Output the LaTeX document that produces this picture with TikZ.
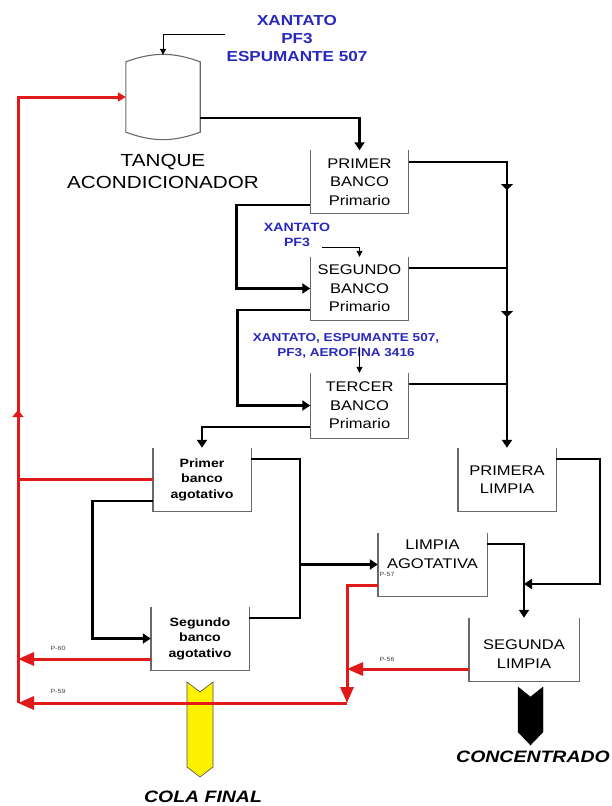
\documentclass[tikz,border=0pt]{standalone}
\usepackage{fontspec}
\setmainfont[FakeStretch=1.18]{Liberation Sans}
\usetikzlibrary{arrows.meta}
\definecolor{chemblue}{RGB}{40,40,190}
\definecolor{recred}{RGB}{225,25,25}
\definecolor{wallgray}{RGB}{105,105,105}
\begin{document}
\begin{tikzpicture}[x=1pt,y=1pt,
  wall/.style={draw=wallgray, line width=1.4pt},
  flow/.style={draw=black, line width=2.9pt},
  fwd/.style={flow, -{Triangle[width=10pt,length=8pt]}},
  midtip/.style={flow, -{Triangle[width=12pt,length=6pt]}},
  recycle/.style={draw=recred, line width=3pt},
  rback/.style={recycle, -{Triangle[width=13pt,length=16pt]}},
  feedline/.style={draw=black, line width=1pt, -{Triangle[width=6pt,length=6pt]}},
  chem/.style={text=chemblue, align=center, inner sep=0pt},
  cell/.style={minimum width=98pt, minimum height=63pt, inner sep=0pt, align=center,
    font=\fontsize{14}{18.5}\selectfont},
  agocell/.style={cell, font=\bfseries\fontsize{12}{15.5}\selectfont},
  tag/.style={font=\fontsize{6}{7}\selectfont, text=black!75, inner sep=0pt},
  outlbl/.style={font=\bfseries\itshape\fontsize{16.5}{20}\selectfont, inner sep=0pt}]
\useasboundingbox (0,0) rectangle (612,-806);

% conditioning tank
\node[minimum width=74pt, minimum height=70pt, inner sep=0pt] (tank) at (163,-97) {};
\draw[wall, line width=1.1pt] (tank.north west) to[out=20,in=160] (tank.north east)
  -- (tank.south east) to[out=-160,in=-20] (tank.south west) -- cycle;
\node[font=\fontsize{17.5}{22}\selectfont, align=center] (tanklbl) at (163,-171) {TANQUE\\ACONDICIONADOR};

% reagent additions
\node[chem, font=\bfseries\fontsize{14.5}{18}\selectfont] (feed1) at (297,-39) {XANTATO\\PF3\\ESPUMANTE 507};
\node[chem, font=\bfseries\fontsize{12}{15}\selectfont] (feed2) at (297,-235) {XANTATO\\PF3};
\node[chem, font=\bfseries\fontsize{11.5}{15}\selectfont] (feed3) at (346,-345.5) {XANTATO, ESPUMANTE 507,\\PF3, AEROFINA 3416};

% flotation cells (open-top tanks)
\node[cell] (pb) at (359.5,-182) {PRIMER\\BANCO\\Primario};
\node[cell] (sb) at (359.5,-288.5) {SEGUNDO\\BANCO\\Primario};
\node[cell, minimum height=65pt] (tb) at (359.5,-405.5) {TERCER\\BANCO\\Primario};
\node[agocell] (pa) at (202,-479.5) {Primer\\banco\\agotativo};
\node[agocell] (sa) at (200,-638.5) {Segundo\\banco\\agotativo};
\node[cell] (pl) at (507,-479.5) {PRIMERA\\LIMPIA};
\node[cell, minimum width=109pt] (la) at (432.5,-564.5) {};
\node[cell, minimum width=110pt] (sl) at (524,-649.5) {};
\node[cell, minimum height=0pt] (lat) at (432.5,-554) {LIMPIA\\AGOTATIVA};
\node[cell, minimum height=0pt] (slt) at (524,-654) {SEGUNDA\\LIMPIA};
\foreach \c in {pb,sb,tb,pa,sa,pl,la,sl}
  \draw[wall] (\c.north west) |- (\c.south east) -- (\c.north east);

% product chevrons
\node[outlbl] (cola) at (203,-797) {COLA FINAL};
\node[outlbl] (conc) at (533,-757) {CONCENTRADO};
\draw[fill=yellow, draw=black!70, line width=0.6pt] (187,-682) -- (200,-692) -- (213,-682)
  -- (213,-767) -- (200,-777) -- (187,-767) -- cycle;
\draw[fill=black, draw=black] (518,-687) -- (530.5,-697) -- (543,-687)
  -- (543,-732) -- (530.5,-745) -- (518,-732) -- cycle;

% reagent feed lines
\coordinate (feedin1) at (225,-34);
\coordinate (feedin2) at (322,-247);
\coordinate (feedin3) at (359.5,-347);
\draw[feedline] (feedin1) -| ([yshift=7pt]tank.north);
\draw[feedline] (feedin2) -| (sb.north);
\draw[feedline] (feedin3) -- (tb.north);

% rougher circuit
\draw[fwd] ([yshift=-21pt]tank.east) -| (pb.north);
\draw[fwd] ([yshift=-23pt]pb.west) -- ++(-74,0) |- (sb.west);
\draw[fwd] ([yshift=-21.5pt]sb.west) -- ++(-73,0) |- (tb.west);
\draw[fwd] ([yshift=-21.5pt]tb.west) -| (pa.north);

% rougher concentrate collector
\coordinate (pbo) at ([yshift=20pt]pb.east);
\coordinate (sbo) at ([yshift=20.5pt]sb.east);
\coordinate (tbo) at ([yshift=21.5pt]tb.east);
\draw[fwd] (pbo) -| (pl.north);
\draw[flow] (sbo) -- (sbo -| pl.north);
\draw[flow] (tbo) -- (tbo -| pl.north);
\draw[midtip] (pbo -| pl.north) -- ++(0,-28);
\draw[midtip] (sbo -| pl.north) -- ++(0,-49);

% scavenger circuit
\coordinate (split) at (300,-564.5);
\draw[flow] ([yshift=20.5pt]pa.east) -| (split) |- ([yshift=20.5pt]sa.east);
\draw[fwd] (split) -- (la.west);
\draw[fwd] ([yshift=-21.5pt]pa.west) -- ++(-60,0) |- (sa.west);

% cleaner circuit
\coordinate (plo) at ([yshift=20.5pt]pl.east);
\coordinate (plturn) at (600,-584);
\draw[fwd] (plo) -| (plturn) -- (plturn -| sl.north);
\draw[fwd] ([yshift=20.5pt]la.east) -| (sl.north);

% recycle lines
\coordinate (rbot) at (18,-703);
\coordinate (rmid) at (18,-410);
\coordinate (j57) at (347,-703);
\coordinate (sa60) at ([yshift=-20.5pt]sa.west);
\coordinate (la57) at ([yshift=-20.5pt]la.west);
\coordinate (sl56) at ([yshift=-19.5pt]sl.west);
\draw[recycle, -{Triangle[width=9pt,length=8pt]}] (rbot) |- (tank.west);
\draw[recycle, -{Triangle[width=11pt,length=7pt]}] (rbot) -- (rmid);
\draw[recycle] (pa.west) -- (pa.west -| rbot);
\draw[rback] (sa60) -- (sa60 -| rbot);
\draw[rback] (j57) -- (rbot);
\draw[rback] (la57) -| (j57);
\draw[rback] (sl56) -- (sl56 -| j57);

% pump tags
\node[tag] (p60) at (58,-648) {P-60};
\node[tag] (p59) at (58,-691) {P-59};
\node[tag] (p57) at (387,-574) {P-57};
\node[tag] (p56) at (387,-659) {P-56};
\end{tikzpicture}
\end{document}
